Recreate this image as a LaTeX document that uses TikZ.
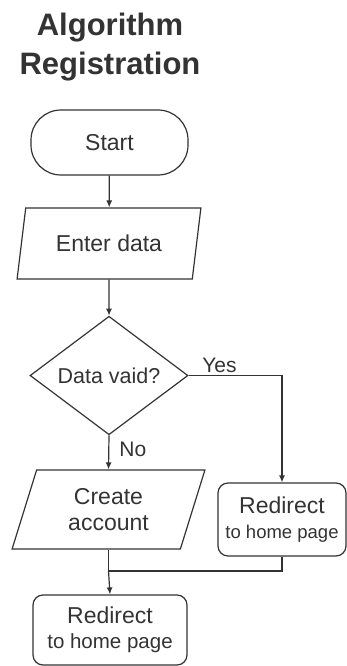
\documentclass[tikz,border=0pt]{standalone}
\usepackage{fontspec}
\setmainfont{Liberation Sans}
\usepackage{xcolor}
\usepackage{tikz}
\usetikzlibrary{positioning, arrows.meta, shapes.geometric, calc}

\definecolor{ink}{HTML}{333333}

\begin{document}
\begin{tikzpicture}[
        x=1pt, y=1pt,
        line width=1.2pt, draw=ink, text=ink,
        box/.style={draw=ink, align=center, inner sep=0pt, font=\fontsize{23}{26}\selectfont},
        term/.style={box, rounded corners=30pt, minimum width=157pt, minimum height=65pt},
        io/.style={box, trapezium, trapezium left angle=72, trapezium right angle=108, trapezium stretches=true},
        decide/.style={box, diamond, minimum width=158pt, minimum height=115pt, font=\fontsize{21.5}{24}\selectfont},
        proc/.style={box, rounded corners=10pt},
        conn/.style={-{Latex[length=7pt, width=6pt]}, draw=ink},
        lbl/.style={font=\fontsize{21}{24}\selectfont, inner sep=2pt},
    ]
    \useasboundingbox (0,0) rectangle (347,-666);

    % Title
    \node[align=center, inner sep=0pt, font=\fontsize{31}{39}\bfseries\selectfont] (title) at (110,-47.5) {Algorithm\\Registration};

    % Main column
    \node[term] (start) at (109.5,-142.5) {Start};
    \node[io, minimum width=184pt, minimum height=71pt] (enter) at (109,-243.5) {Enter data};
    \node[decide] (valid) at (109,-375.5) {Data vaid?};
    \node[io, minimum width=193pt, minimum height=79pt] (create) at (108.5,-509.5) {Create\\account};
    \node[proc, minimum width=154pt, minimum height=70pt] (home) at (110,-630) {Redirect\\[-1pt]{\fontsize{20.5}{22}\selectfont to home page}};

    % Yes branch
    \node[proc, minimum width=128pt, minimum height=73pt] (redir) at (282,-519.5) {Redirect\\[-1pt]{\fontsize{18.5}{22}\selectfont to home page}};

    % Connections
    \draw[conn] (start) -- (enter);
    \draw[conn] (enter) -- (valid);
    \draw[conn] (valid.east) -| node[lbl, above, pos=0.165] {Yes} (redir.north);
    \draw[conn] (valid.south) -- node[lbl, right, pos=0.4, xshift=8pt] {No} (create.north);
    \coordinate (join) at (create.south |- 0,-571);
    \draw (create.south) -- (join);
    \draw (redir.south) |- (join);
    \draw[conn] (join) -- (home.north);
\end{tikzpicture}
\end{document}
